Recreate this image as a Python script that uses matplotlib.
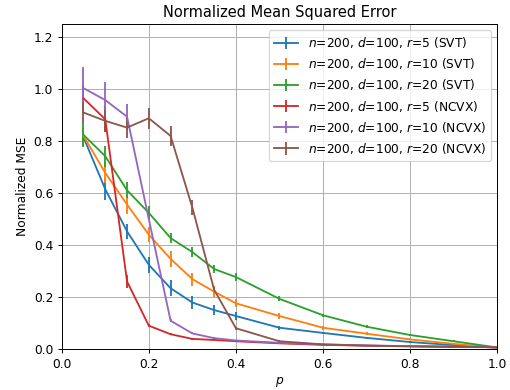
import matplotlib
matplotlib.use('Agg')
import matplotlib.pyplot as plt

p = [0.05, 0.1, 0.15, 0.2, 0.25, 0.3, 0.35, 0.4, 0.5, 0.6, 0.7, 0.8, 0.9, 1.0]

labels = [r'$n$=200, $d$=100, $r$=5 (SVT)',
          r'$n$=200, $d$=100, $r$=10 (SVT)',
          r'$n$=200, $d$=100, $r$=20 (SVT)',
          r'$n$=200, $d$=100, $r$=5 (NCVX)',
          r'$n$=200, $d$=100, $r$=10 (NCVX)',
          r'$n$=200, $d$=100, $r$=20 (NCVX)']

svt_r5 = [0.815, 0.615, 0.453, 0.324, 0.234, 0.179, 0.150, 0.127,
          0.082, 0.062, 0.043, 0.027, 0.015, 0.005]
svt_r10 = [0.82, 0.678, 0.556, 0.440, 0.347, 0.269, 0.221, 0.176,
           0.127, 0.082, 0.059, 0.037, 0.020, 0.005]
svt_r20 = [0.824, 0.742, 0.611, 0.524, 0.427, 0.373, 0.308, 0.277,
           0.193, 0.130, 0.086, 0.054, 0.030, 0.006]
ncvx_r5 = [0.965, 0.884, 0.26, 0.09, 0.057, 0.039, 0.035, 0.030,
           0.022, 0.016, 0.013, 0.011, 0.009, 0.007]
ncvx_r10 = [1.004, 0.958, 0.894, 0.50, 0.109, 0.060, 0.042, 0.033,
            0.024, 0.018, 0.014, 0.011, 0.009, 0.007]
ncvx_r20 = [0.91, 0.878, 0.852, 0.888, 0.82, 0.544, 0.228, 0.08,
            0.030, 0.018, 0.013, 0.010, 0.008, 0.007]

err_r5 = [0.03, 0.04, 0.03, 0.03, 0.03, 0.025, 0.02, 0.015,
          0.008, 0.005, 0.004, 0.003, 0.002, 0.001]
err_r10 = [0.03, 0.04, 0.035, 0.03, 0.03, 0.025, 0.02, 0.015,
           0.012, 0.008, 0.006, 0.004, 0.003, 0.001]
err_r20 = [0.045, 0.04, 0.03, 0.025, 0.02, 0.018, 0.015, 0.015,
           0.01, 0.006, 0.005, 0.004, 0.003, 0.001]
err_n5 = [0.05, 0.05, 0.025, 0.005, 0.004, 0.003, 0.002, 0.002,
          0.001, 0.001, 0.001, 0.001, 0.001, 0.001]
err_n10 = [0.08, 0.07, 0.05, 0.005, 0.005, 0.004, 0.003, 0.002,
           0.001, 0.001, 0.001, 0.001, 0.001, 0.001]
err_n20 = [0.04, 0.04, 0.04, 0.04, 0.04, 0.03, 0.01, 0.005,
           0.003, 0.002, 0.001, 0.001, 0.001, 0.001]

series = [svt_r5, svt_r10, svt_r20, ncvx_r5, ncvx_r10, ncvx_r20]
errors = [err_r5, err_r10, err_r20, err_n5, err_n10, err_n20]

# text in the reference matches roughly 88 dpi rendering
fig, ax = plt.subplots(figsize=(510 / 88, 390 / 88), dpi=88)
for lab, y, e in zip(labels, series, errors):
    ax.errorbar(p, y, yerr=e, label=lab)

ax.set_xlim(0, 1.0)
ax.set_ylim(0, 1.25)
ax.set_title('Normalized Mean Squared Error')
ax.set_xlabel('$p$')
ax.set_ylabel('Normalized MSE')
ax.grid(True)
ax.legend(loc='upper right')
fig.subplots_adjust(left=0.121, right=0.975, top=0.938, bottom=0.105)
fig.savefig('out.png')
